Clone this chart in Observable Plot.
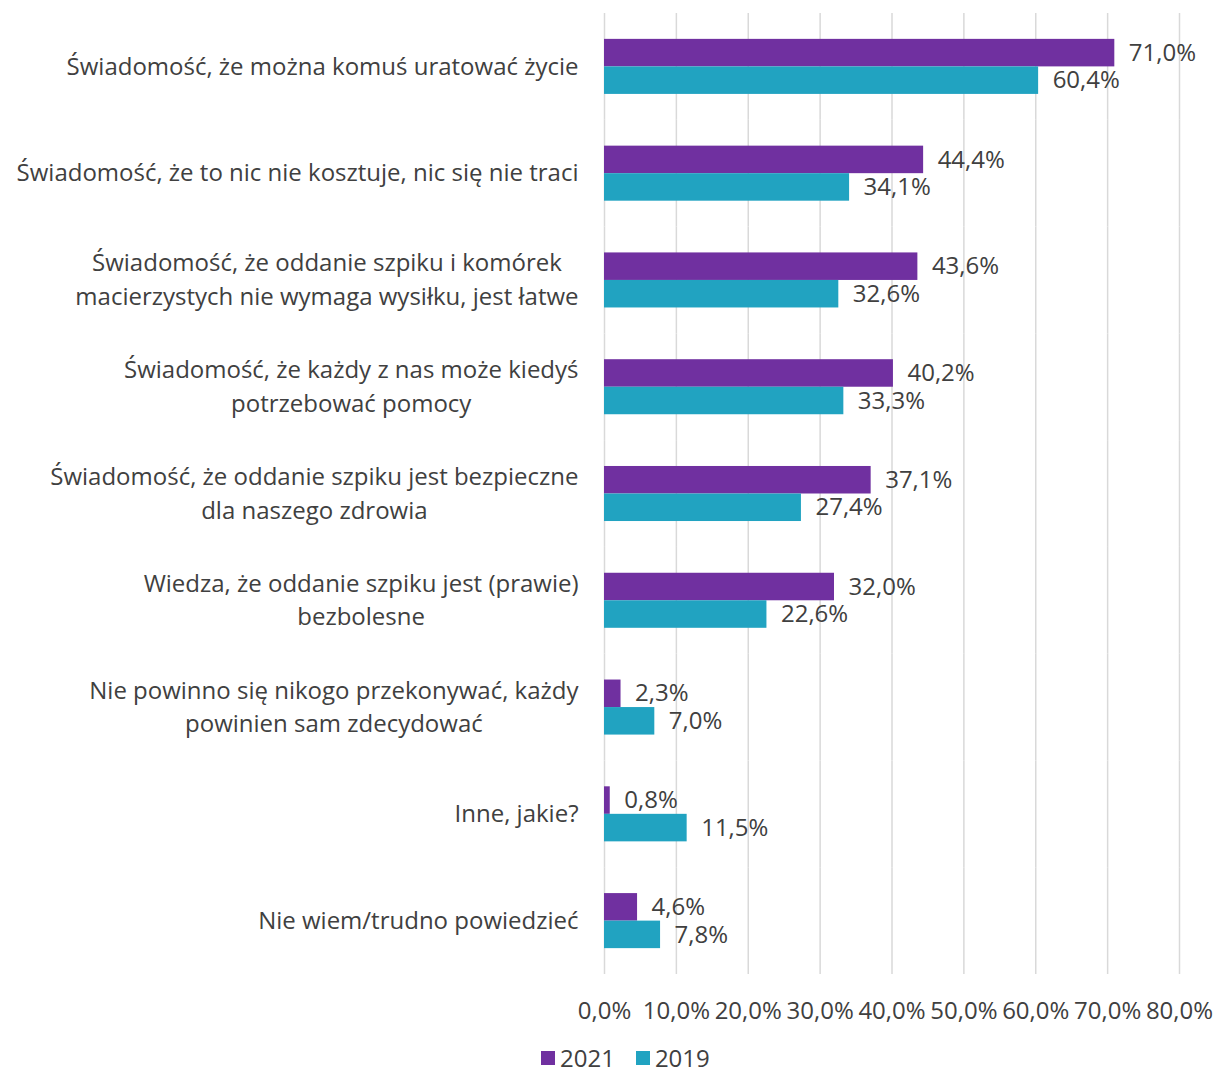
<!DOCTYPE html>
<html>
<head>
<meta charset="utf-8">
<script src="https://cdn.jsdelivr.net/npm/d3@7"></script>
<script src="https://cdn.jsdelivr.net/npm/@observablehq/plot@0.6"></script>
<style>
  body { margin: 0; background: #fff; font-family: "Open Sans", sans-serif; overflow: hidden; }
  #legend { display: flex; align-items: center; margin-left: 541px; margin-top: 9px; font-size: 24px; line-height: 18px; color: #404040; height: 18px; }
  #legend span.sw { display: inline-block; width: 14px; height: 14px; margin-right: 5px; }
  #legend span.lb { margin-right: 21px; }
</style>
</head>
<body>
<div id="chart"></div>
<div id="legend"></div>
<script>
const categories = [
  "Świadomość, że można komuś uratować życie",
  "Świadomość, że to nic nie kosztuje, nic się nie traci",
  "Świadomość, że oddanie szpiku i komórek\nmacierzystych nie wymaga wysiłku, jest łatwe",
  "Świadomość, że każdy z nas może kiedyś\npotrzebować pomocy",
  "Świadomość, że oddanie szpiku jest bezpieczne\ndla naszego zdrowia",
  "Wiedza, że oddanie szpiku jest (prawie)\nbezbolesne",
  "Nie powinno się nikogo przekonywać, każdy\npowinien sam zdecydować",
  "Inne, jakie?",
  "Nie wiem/trudno powiedzieć"
];
const years = ["2021", "2019"];
const values2021 = [71.0, 44.4, 43.6, 40.2, 37.1, 32.0, 2.3, 0.8, 4.6];
const values2019 = [60.4, 34.1, 32.6, 33.3, 27.4, 22.6, 7.0, 11.5, 7.8];
const colors = ["#7030A0", "#21A3C1"];
const xTicks = [0, 10, 20, 30, 40, 50, 60, 70, 80];

const rows = [];
categories.forEach((c, i) => {
  rows.push({category: c, year: years[0], value: values2021[i]});
  rows.push({category: c, year: years[1], value: values2019[i]});
});

const fmt = v => v.toFixed(1).replace(".", ",") + "%";
const FONT = 24;
const ctx = document.createElement("canvas").getContext("2d");
ctx.font = `${FONT}px "Open Sans"`;
const labelWidth = s => Math.max(...s.split("\n").map(l => ctx.measureText(l).width));

const labelMarks = categories.map(c =>
  Plot.text([c], {
    fy: d => d,
    text: d => d,
    frameAnchor: "left",
    textAnchor: "middle",
    lineAnchor: "middle",
    lineHeight: 1.4,
    dx: -(26 + labelWidth(c) / 2),
    dy: -3,
    fill: "#404040",
    fontSize: FONT
  })
);

const chart = Plot.plot({
  width: 1216,
  height: 1040,
  marginLeft: 604,
  marginRight: 37,
  marginTop: 13,
  marginBottom: 66,
  style: {fontFamily: "'Open Sans', sans-serif", fontSize: FONT + "px", color: "#404040", background: "#fff"},
  x: {domain: [0, 80], ticks: xTicks, label: null},
  y: {domain: years, paddingInner: 0, paddingOuter: 0.94, round: false, axis: null},
  fy: {domain: categories, padding: 0, round: false, axis: null, label: null},
  color: {domain: years, range: colors},
  facet: {data: rows, y: "category"},
  marks: [
    Plot.gridX(xTicks, {stroke: "#d9d9d9", strokeOpacity: 1, strokeWidth: 1.5}),
    Plot.barX(rows, {y: "year", x: "value", fill: "year", fy: "category"}),
    Plot.text(rows, {y: "year", x: "value", fy: "category", text: d => fmt(d.value), textAnchor: "start", dx: 14, fill: "#404040", fontSize: FONT}),
    ...labelMarks,
    Plot.axisX(xTicks, {tickSize: 0, tickPadding: 27, tickFormat: d => fmt(d), fontSize: FONT, fill: "#404040", label: null})
  ]
});
document.getElementById("chart").appendChild(chart);

const legend = document.getElementById("legend");
years.forEach((y, i) => {
  const sw = document.createElement("span");
  sw.className = "sw";
  sw.style.background = colors[i];
  const lb = document.createElement("span");
  lb.className = "lb";
  lb.textContent = y;
  legend.appendChild(sw);
  legend.appendChild(lb);
});
</script>
</body>
</html>
